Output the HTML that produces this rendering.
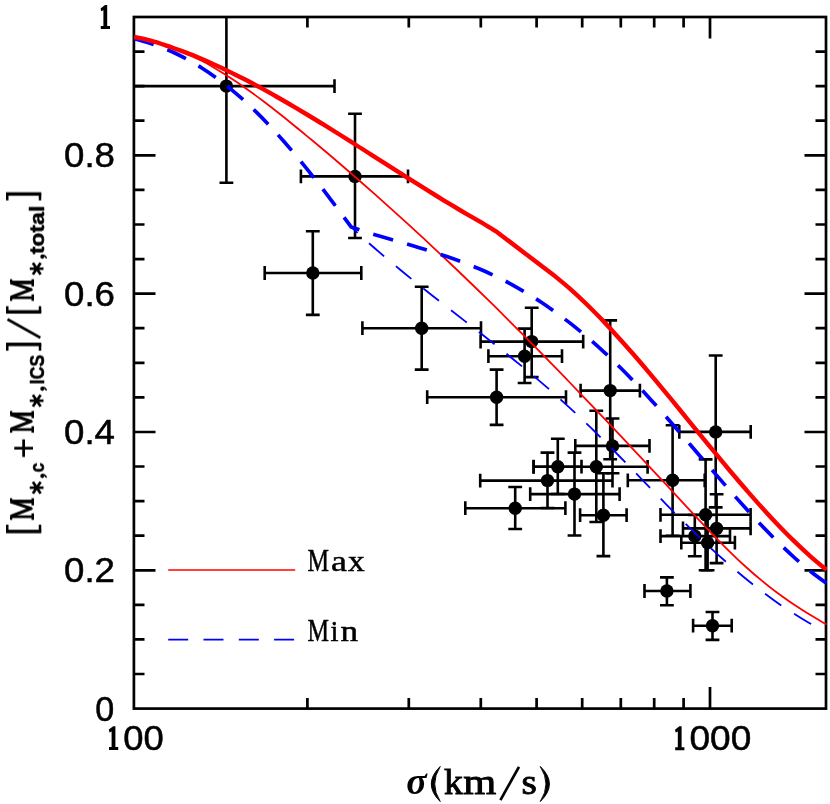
<!DOCTYPE html>
<html><head><meta charset="utf-8"><title>plot</title>
<style>html,body{margin:0;padding:0;background:#fff}svg{display:block}text{font-family:"Liberation Sans",sans-serif;fill:#000}.sf{font-family:"Liberation Serif",serif}</style>
</head><body>
<svg width="830" height="804" viewBox="0 0 830 804">
<rect width="830" height="804" fill="#fff"/>
<defs><clipPath id="cp"><rect x="134" y="17" width="692" height="691.6"/></clipPath><clipPath id="cq"><rect x="134" y="17" width="693" height="691.6"/></clipPath></defs>
<g stroke="#000" stroke-width="2.7" fill="none" stroke-linecap="butt">
<rect x="133.9" y="17" width="692.1" height="691.6"/>
<path d="M134 674.0h10.5M826 674.0h-10.5M134 639.4h10.5M826 639.4h-10.5M134 604.9h10.5M826 604.9h-10.5M134 570.3h21.5M826 570.3h-21.5M134 535.7h10.5M826 535.7h-10.5M134 501.1h10.5M826 501.1h-10.5M134 466.5h10.5M826 466.5h-10.5M134 432.0h21.5M826 432.0h-21.5M134 397.4h10.5M826 397.4h-10.5M134 362.8h10.5M826 362.8h-10.5M134 328.2h10.5M826 328.2h-10.5M134 293.6h21.5M826 293.6h-21.5M134 259.1h10.5M826 259.1h-10.5M134 224.5h10.5M826 224.5h-10.5M134 189.9h10.5M826 189.9h-10.5M134 155.3h21.5M826 155.3h-21.5M134 120.7h10.5M826 120.7h-10.5M134 86.2h10.5M826 86.2h-10.5M134 51.6h10.5M826 51.6h-10.5M307.4 17v10.5M307.4 708.6v-10.5M408.8 17v10.5M408.8 708.6v-10.5M480.8 17v10.5M480.8 708.6v-10.5M536.6 17v10.5M536.6 708.6v-10.5M582.2 17v10.5M582.2 708.6v-10.5M620.8 17v10.5M620.8 708.6v-10.5M654.2 17v10.5M654.2 708.6v-10.5M683.6 17v10.5M683.6 708.6v-10.5M710.0 17v21.5M710.0 708.6v-21.5"/>
</g>
<g clip-path="url(#cp)"><g stroke="#000" stroke-width="2.6" fill="none">
<path d="M130.0 86.1H334.5M334.5 79.2v13.8M226.4 10.0V182.8M219.5 182.8h13.8"/>
<path d="M300.9 176.4H408.0M300.9 169.5v13.8M408.0 169.5v13.8M355.0 113.7V238.0M348.1 113.7h13.8M348.1 238.0h13.8"/>
<path d="M264.7 273.0H361.3M264.7 266.1v13.8M361.3 266.1v13.8M312.8 231.3V314.9M305.9 231.3h13.8M305.9 314.9h13.8"/>
<path d="M362.4 328.2H481.0M362.4 321.3v13.8M481.0 321.3v13.8M421.7 286.7V369.6M414.8 286.7h13.8M414.8 369.6h13.8"/>
<path d="M480.6 341.6H583.2M480.6 334.7v13.8M583.2 334.7v13.8M531.7 307.7V377.1M524.8 307.7h13.8M524.8 377.1h13.8"/>
<path d="M488.4 356.2H562.0M488.4 349.3v13.8M562.0 349.3v13.8M524.6 328.6V383.0M517.7 328.6h13.8M517.7 383.0h13.8"/>
<path d="M427.2 397.2H566.0M427.2 390.3v13.8M566.0 390.3v13.8M496.6 369.6V424.9M489.7 369.6h13.8M489.7 424.9h13.8"/>
<path d="M580.6 390.6H639.9M580.6 383.7v13.8M639.9 383.7v13.8M610.2 320.4V459.3M603.3 320.4h13.8M603.3 459.3h13.8"/>
<path d="M575.3 445.9H649.5M575.3 439.0v13.8M649.5 439.0v13.8M612.5 418.5V473.3M605.6 418.5h13.8M605.6 473.3h13.8"/>
<path d="M533.6 466.7H581.5M533.6 459.8v13.8M581.5 459.8v13.8M557.8 438.7V494.0M550.9 438.7h13.8M550.9 494.0h13.8"/>
<path d="M533.6 466.8H647.6M533.6 459.9v13.8M647.6 459.9v13.8M596.3 410.7V522.0M589.4 410.7h13.8M589.4 522.0h13.8"/>
<path d="M480.2 480.6H612.5M480.2 473.7v13.8M612.5 473.7v13.8M547.5 452.6V508.0M540.6 452.6h13.8M540.6 508.0h13.8"/>
<path d="M530.2 494.1H619.6M530.2 487.2v13.8M619.6 487.2v13.8M574.5 452.6V535.5M567.6 452.6h13.8M567.6 535.5h13.8"/>
<path d="M465.3 508.2H565.4M465.3 501.3v13.8M565.4 501.3v13.8M515.2 487.0V529.0M508.3 487.0h13.8M508.3 529.0h13.8"/>
<path d="M580.1 515.2H626.6M580.1 508.3v13.8M626.6 508.3v13.8M603.4 473.3V556.1M596.5 473.3h13.8M596.5 556.1h13.8"/>
<path d="M627.8 480.3H704.7M627.8 473.4v13.8M704.7 473.4v13.8M672.6 425.3V535.7M665.7 425.3h13.8M665.7 535.7h13.8"/>
<path d="M679.3 431.9H750.7M679.3 425.0v13.8M750.7 425.0v13.8M715.7 355.5V507.4M708.8 355.5h13.8M708.8 507.4h13.8"/>
<path d="M660.5 514.8H750.6M660.5 507.9v13.8M750.6 507.9v13.8M705.6 459.4V570.2M698.7 459.4h13.8M698.7 570.2h13.8"/>
<path d="M683.0 528.4H750.6M683.0 521.5v13.8M750.6 521.5v13.8M716.6 494.3V563.1M709.7 494.3h13.8M709.7 563.1h13.8"/>
<path d="M660.5 536.1H730.0M660.5 529.2v13.8M730.0 529.2v13.8M694.8 515.0V556.3M687.9 515.0h13.8M687.9 556.3h13.8"/>
<path d="M681.3 542.7H734.9M681.3 535.8v13.8M734.9 535.8v13.8M707.6 515.0V570.2M700.7 515.0h13.8M700.7 570.2h13.8"/>
<path d="M644.5 591.0H690.4M644.5 584.1v13.8M690.4 584.1v13.8M666.9 577.4V605.3M660.0 577.4h13.8M660.0 605.3h13.8"/>
<path d="M693.1 625.7H731.7M693.1 618.8v13.8M731.7 618.8v13.8M712.5 612.0V639.9M705.6 612.0h13.8M705.6 639.9h13.8"/>
</g><g fill="#000">
<circle cx="226.4" cy="86.1" r="6.7"/>
<circle cx="355.0" cy="176.4" r="6.7"/>
<circle cx="312.8" cy="273.0" r="6.7"/>
<circle cx="421.7" cy="328.2" r="6.7"/>
<circle cx="531.7" cy="341.6" r="6.7"/>
<circle cx="524.6" cy="356.2" r="6.7"/>
<circle cx="496.6" cy="397.2" r="6.7"/>
<circle cx="610.2" cy="390.6" r="6.7"/>
<circle cx="612.5" cy="445.9" r="6.7"/>
<circle cx="557.8" cy="466.7" r="6.7"/>
<circle cx="596.3" cy="466.8" r="6.7"/>
<circle cx="547.5" cy="480.6" r="6.7"/>
<circle cx="574.5" cy="494.1" r="6.7"/>
<circle cx="515.2" cy="508.2" r="6.7"/>
<circle cx="603.4" cy="515.2" r="6.7"/>
<circle cx="672.6" cy="480.3" r="6.7"/>
<circle cx="715.7" cy="431.9" r="6.7"/>
<circle cx="705.6" cy="514.8" r="6.7"/>
<circle cx="716.6" cy="528.4" r="6.7"/>
<circle cx="694.8" cy="536.1" r="6.7"/>
<circle cx="707.6" cy="542.7" r="6.7"/>
<circle cx="666.9" cy="591.0" r="6.7"/>
<circle cx="712.5" cy="625.7" r="6.7"/>
</g></g>
<g clip-path="url(#cq)" fill="none" stroke-linejoin="round">
<path d="M134.0 37.7C136.7 38.2 144.7 39.3 150.1 40.5C155.5 41.8 160.8 43.3 166.2 45.1C171.6 46.9 176.9 49.0 182.3 51.3C187.7 53.6 193.1 56.2 198.4 59.0C203.8 61.7 209.2 64.7 214.5 67.9C219.9 71.1 225.3 74.5 230.6 78.0C236.0 81.5 241.4 85.2 246.7 89.0C252.1 92.8 257.5 96.8 262.8 100.8C268.2 104.9 273.6 109.1 278.9 113.3C284.3 117.5 289.7 121.9 295.0 126.3C300.4 130.6 305.8 135.1 311.2 139.5C316.5 144.0 321.9 148.5 327.3 153.0C332.6 157.6 338.0 162.2 343.4 166.8C348.7 171.4 354.1 176.0 359.5 180.7C364.8 185.4 370.2 190.1 375.6 194.9C380.9 199.7 386.3 204.5 391.7 209.3C397.0 214.1 402.4 219.0 407.8 223.9C413.1 228.8 418.5 233.8 423.9 238.7C429.3 243.7 434.6 248.7 440.0 253.8C445.4 258.8 450.7 263.9 456.1 269.0C461.5 274.2 466.8 279.3 472.2 284.5C477.6 289.7 482.9 294.9 488.3 300.2C493.7 305.4 499.0 310.7 504.4 316.1C509.8 321.4 515.1 326.8 520.5 332.2C525.9 337.6 531.2 343.0 536.6 348.4C542.0 353.9 547.4 359.4 552.7 364.9C558.1 370.4 563.5 375.9 568.8 381.5C574.2 387.1 579.6 392.7 584.9 398.3C590.3 403.9 595.7 409.5 601.0 415.2C606.4 420.8 611.8 426.5 617.1 432.2C622.5 437.9 627.9 443.6 633.2 449.4C638.6 455.1 644.0 460.8 649.3 466.6C654.7 472.4 660.1 478.2 665.5 483.9C670.8 489.7 676.2 495.6 681.6 501.3C686.9 507.1 692.3 512.9 697.7 518.7C703.0 524.4 708.4 530.1 713.8 535.6C719.1 541.1 724.5 546.6 729.9 551.8C735.2 557.1 740.6 562.2 746.0 567.0C751.3 571.9 756.7 576.5 762.1 580.9C767.4 585.3 772.8 589.5 778.2 593.5C783.6 597.4 788.9 601.2 794.3 604.8C799.7 608.4 805.0 611.8 810.4 615.1C815.8 618.4 823.8 623.0 826.5 624.6" stroke="#ff0000" stroke-width="1.8"/>
<path d="M134.0 38.7C136.3 39.3 143.0 41.1 147.6 42.5C152.1 43.9 156.6 45.5 161.1 47.2C165.7 49.0 170.2 50.9 174.7 53.0C179.2 55.1 183.8 57.5 188.3 60.0C192.8 62.5 197.3 65.1 201.8 68.0C206.4 70.9 210.9 74.0 215.4 77.2C219.9 80.5 224.5 84.0 229.0 87.6C233.5 91.3 238.0 95.1 242.6 99.2C247.1 103.2 251.6 107.5 256.1 111.9C260.6 116.3 265.2 121.0 269.7 125.8C274.2 130.6 278.7 135.6 283.3 140.7C287.8 145.9 292.3 151.2 296.8 156.6C301.3 162.1 305.9 167.6 310.4 173.3C314.9 179.0 319.4 184.8 324.0 190.7C328.5 196.6 333.0 202.6 337.5 208.6C342.1 214.6 348.8 223.8 351.1 226.9L351.1 226.9C353.8 229.4 361.9 236.9 367.4 241.7C372.8 246.6 378.2 251.2 383.6 255.9C389.1 260.5 394.5 265.0 399.9 269.5C405.3 274.0 410.8 278.4 416.2 282.7C421.6 287.1 427.0 291.4 432.5 295.7C437.9 300.0 443.3 304.2 448.7 308.4C454.2 312.7 459.6 316.9 465.0 321.1C470.4 325.4 475.9 329.6 481.3 333.8C486.7 338.1 492.1 342.3 497.6 346.6C503.0 351.0 508.4 355.3 513.8 359.7C519.2 364.1 524.7 368.5 530.1 373.1C535.5 377.6 540.9 382.2 546.4 386.9C551.8 391.6 557.2 396.4 562.6 401.3C568.1 406.2 573.5 411.2 578.9 416.3C584.3 421.4 589.8 426.7 595.2 432.0C600.6 437.3 606.0 442.8 611.5 448.2C616.9 453.7 622.3 459.3 627.7 464.8C633.2 470.4 638.6 476.0 644.0 481.6C649.4 487.2 654.9 492.8 660.3 498.3C665.7 503.8 671.1 509.4 676.5 514.8C682.0 520.3 687.4 525.7 692.8 530.9C698.2 536.2 703.7 541.4 709.1 546.5C714.5 551.6 719.9 556.5 725.4 561.3C730.8 566.1 736.2 570.7 741.6 575.2C747.1 579.8 752.5 584.1 757.9 588.3C763.3 592.5 768.8 596.5 774.2 600.4C779.6 604.3 785.0 608.0 790.5 611.5C795.9 615.0 801.3 618.4 806.7 621.5C812.2 624.7 820.3 629.0 823.0 630.4" stroke="#0000ff" stroke-width="1.8" stroke-dasharray="20 15.3"/>
<path d="M134.0 38.7C136.3 39.3 143.0 41.1 147.6 42.5C152.1 43.9 156.6 45.5 161.1 47.2C165.7 49.0 170.2 50.9 174.7 53.0C179.2 55.1 183.8 57.5 188.3 60.0C192.8 62.5 197.3 65.1 201.8 68.0C206.4 70.9 210.9 74.0 215.4 77.2C219.9 80.5 224.5 84.0 229.0 87.6C233.5 91.3 238.0 95.1 242.6 99.2C247.1 103.2 251.6 107.5 256.1 111.9C260.6 116.3 265.2 121.0 269.7 125.8C274.2 130.6 278.7 135.6 283.3 140.7C287.8 145.9 292.3 151.2 296.8 156.6C301.3 162.1 305.9 167.6 310.4 173.3C314.9 179.0 319.4 184.8 324.0 190.7C328.5 196.6 333.0 202.6 337.5 208.6C342.1 214.6 348.8 223.8 351.1 226.9L351.1 226.9C353.7 227.8 361.7 230.7 366.9 232.4C372.2 234.0 377.5 235.5 382.8 237.0C388.1 238.5 393.4 240.0 398.6 241.6C403.9 243.1 409.2 244.6 414.5 246.2C419.8 247.8 425.1 249.4 430.3 251.1C435.6 252.7 440.9 254.5 446.2 256.3C451.5 258.1 456.7 260.0 462.0 262.0C467.3 264.0 472.6 266.0 477.9 268.3C483.2 270.5 488.4 272.8 493.7 275.4C499.0 277.9 504.3 280.5 509.6 283.3C514.8 286.2 520.1 289.2 525.4 292.3C530.7 295.5 536.0 298.8 541.3 302.3C546.5 305.8 551.8 309.5 557.1 313.4C562.4 317.2 567.7 321.2 573.0 325.4C578.2 329.6 583.5 334.0 588.8 338.5C594.1 343.0 599.4 347.8 604.6 352.6C609.9 357.5 615.2 362.6 620.5 367.8C625.8 373.1 631.1 378.5 636.3 384.1C641.6 389.6 646.9 395.4 652.2 401.2C657.5 407.0 662.8 413.0 668.0 419.0C673.3 425.0 678.6 431.1 683.9 437.3C689.2 443.4 694.4 449.6 699.7 455.7C705.0 461.9 710.3 468.0 715.6 474.1C720.9 480.2 726.1 486.3 731.4 492.3C736.7 498.3 742.0 504.2 747.3 510.0C752.5 515.8 757.8 521.5 763.1 527.0C768.4 532.5 773.7 537.9 779.0 543.1C784.2 548.2 789.5 553.2 794.8 558.0C800.1 562.7 805.4 567.2 810.7 571.5C815.9 575.7 823.9 581.4 826.5 583.3" stroke="#0000ff" stroke-width="3.7" stroke-dasharray="20.6 14.6"/>
<path d="M134.0 36.9C136.6 37.5 144.5 39.0 149.8 40.4C155.1 41.8 160.3 43.5 165.6 45.3C170.9 47.0 176.1 48.9 181.4 50.9C186.7 52.8 191.9 54.9 197.2 57.1C202.5 59.3 207.8 61.6 213.0 64.0C218.3 66.3 223.6 68.8 228.8 71.4C234.1 73.9 239.4 76.6 244.6 79.3C249.9 82.0 255.2 84.8 260.4 87.7C265.7 90.6 271.0 93.5 276.2 96.5C281.5 99.5 286.8 102.5 292.0 105.6C297.3 108.7 302.6 111.9 307.8 115.0C313.1 118.2 318.4 121.4 323.7 124.7C328.9 127.9 334.2 131.2 339.5 134.5C344.7 137.8 350.0 141.2 355.3 144.5C360.5 147.9 365.8 151.2 371.1 154.6C376.3 157.9 381.6 161.3 386.9 164.7C392.1 168.0 397.4 171.4 402.7 174.7C407.9 178.1 413.2 181.4 418.5 184.7C423.7 188.0 429.0 191.3 434.3 194.5C439.6 197.8 444.8 201.0 450.1 204.2C455.4 207.4 460.6 210.5 465.9 213.6C471.2 216.7 476.4 219.6 481.7 222.7C487.0 225.8 494.9 230.8 497.5 232.4L497.5 232.4C506.8 239.5 544.2 267.9 553.5 275.0L553.5 275.0C556.2 277.2 564.2 283.7 569.6 288.4C574.9 293.1 580.3 298.1 585.6 303.3C591.0 308.5 596.3 313.9 601.7 319.4C607.0 325.0 612.4 330.8 617.7 336.7C623.1 342.6 628.4 348.6 633.8 354.8C639.1 360.9 644.5 367.2 649.9 373.6C655.2 379.9 660.6 386.4 665.9 392.9C671.3 399.4 676.6 405.9 682.0 412.5C687.3 419.0 692.7 425.6 698.0 432.1C703.4 438.7 708.7 445.2 714.1 451.7C719.4 458.2 724.8 464.7 730.1 471.0C735.5 477.4 740.9 483.7 746.2 489.8C751.6 496.0 756.9 502.1 762.3 508.0C767.6 513.9 773.0 519.7 778.3 525.2C783.7 530.8 789.0 536.2 794.4 541.4C799.7 546.6 805.1 551.6 810.4 556.3C815.8 561.1 823.8 567.6 826.5 569.8" stroke="#ff0000" stroke-width="4.4"/>
</g>
<path d="M168.2 570H295.2" stroke="#ff0000" stroke-width="1.7" fill="none"/>
<path d="M168.2 639.7H295.2" stroke="#0000ff" stroke-width="1.7" fill="none" stroke-dasharray="20 15.3"/>
<g opacity="0.999">
<text x="64.0" y="167.4" font-size="35" textLength="51.0" lengthAdjust="spacingAndGlyphs" stroke="#000" stroke-width="0.5">0.8</text>
<text x="64.0" y="305.7" font-size="35" textLength="51.0" lengthAdjust="spacingAndGlyphs" stroke="#000" stroke-width="0.5">0.6</text>
<text x="64.0" y="444.1" font-size="35" textLength="51.0" lengthAdjust="spacingAndGlyphs" stroke="#000" stroke-width="0.5">0.4</text>
<text x="64.0" y="582.4" font-size="35" textLength="51.0" lengthAdjust="spacingAndGlyphs" stroke="#000" stroke-width="0.5">0.2</text>
<path d="M107.2 5.0L107.2 25.9L110.0 25.9L110.0 28.9L100.8 28.9L100.8 25.9L103.4 25.9L103.4 10.3L101.3 11.2L100.6 8.4L105.0 5.0Z" fill="#000"/>
<text x="95.2" y="720.8" font-size="35" textLength="19.0" lengthAdjust="spacingAndGlyphs" stroke="#000" stroke-width="0.5">0</text>
<path d="M115.4 726.2L115.4 747.1L118.2 747.1L118.2 750.1L109.0 750.1L109.0 747.1L111.6 747.1L111.6 731.5L109.5 732.4L108.8 729.6L113.2 726.2Z" fill="#000"/>
<text x="123.3" y="750.1" font-size="35" textLength="40.5" lengthAdjust="spacingAndGlyphs" stroke="#000" stroke-width="0.5">00</text>
<path d="M681.6 726.3L681.6 747.2L684.4 747.2L684.4 750.2L675.2 750.2L675.2 747.2L677.8 747.2L677.8 731.6L675.7 732.5L675.0 729.7L679.4 726.3Z" fill="#000"/>
<text x="689.5" y="750.2" font-size="35" textLength="61.8" lengthAdjust="spacingAndGlyphs" stroke="#000" stroke-width="0.5">000</text>
<text class="sf" x="307.4" y="571.4" font-size="31.5" textLength="21.5" lengthAdjust="spacingAndGlyphs" stroke="#000" stroke-width="0.50">M</text>
<text class="sf" x="330.9" y="571.4" font-size="30.0" textLength="15.9" lengthAdjust="spacingAndGlyphs" stroke="#000" stroke-width="0.50">a</text>
<text class="sf" x="348.0" y="571.4" font-size="30.0" textLength="16.6" lengthAdjust="spacingAndGlyphs" stroke="#000" stroke-width="0.50">x</text>
<text class="sf" x="307.4" y="640.8" font-size="31.5" textLength="21.5" lengthAdjust="spacingAndGlyphs" stroke="#000" stroke-width="0.50">M</text>
<text class="sf" x="330.6" y="640.8" font-size="30.0" textLength="8.0" lengthAdjust="spacingAndGlyphs" stroke="#000" stroke-width="0.50">i</text>
<text class="sf" x="340.6" y="640.8" font-size="30.0" textLength="17.6" lengthAdjust="spacingAndGlyphs" stroke="#000" stroke-width="0.50">n</text>
<text class="sf" x="406.2" y="794.2" font-size="38" font-style="italic" font-weight="bold" textLength="20.5" lengthAdjust="spacingAndGlyphs">σ</text>
<path d="M440.2 766.5Q422.4 784 440.2 801.5Q429.2 784 440.2 766.5Z" fill="#000" stroke="#000" stroke-width="1" stroke-linejoin="round"/>
<text class="sf" x="443.9" y="794.2" font-size="36.3" textLength="18.9" lengthAdjust="spacingAndGlyphs" stroke="#000" stroke-width="0.90">k</text>
<text class="sf" x="463.2" y="794.2" font-size="36.3" textLength="33.0" lengthAdjust="spacingAndGlyphs" stroke="#000" stroke-width="0.90">m</text>
<path d="M500.4 800.2L519.0 766.8" fill="none" stroke="#000" stroke-width="2.7"/>
<text class="sf" x="521.6" y="794.2" font-size="36.3" textLength="15.4" lengthAdjust="spacingAndGlyphs" stroke="#000" stroke-width="0.90">s</text>
<path d="M540.3 766.5Q558.5 784 540.3 801.5Q551.7 784 540.3 766.5Z" fill="#000" stroke="#000" stroke-width="1" stroke-linejoin="round"/>
<g transform="translate(34 533.6) rotate(-90)">
<path d="M2.1 -28V7.3" fill="none" stroke="#000" stroke-width="3.5"/><path d="M2.1 -26.7H8.9M2.1 6H8.9" fill="none" stroke="#000" stroke-width="2.6"/>
<g transform="translate(13.7 0)" stroke="#000" fill="none">
<path d="M3.2 -1V-23.6" stroke-width="2.7"/><path d="M18.4 -1V-23.6" stroke-width="3.6"/>
<path d="M3.6 -23.2L11.4 -2.9L18.2 -23.2" stroke-width="3.1" stroke-linejoin="round"/>
<path d="M0 -1.3H6.5M14.5 -1.3H21.7" stroke-width="2.6"/><path d="M0 -22.9H3.6M18 -22.9H21.7" stroke-width="2.4"/>
</g>
<path d="M45.9 -4.2v13.8M40.1 -1.2l11.6 7.8M40.1 6.6l11.6 -7.8" stroke="#000" stroke-width="2.6" fill="none"/>
<circle cx="57.7" cy="8.3" r="2.1" fill="#000"/><path d="M58.9 8.6q0.4 2.4 -2.4 3.6" fill="none" stroke="#000" stroke-width="1.5" stroke-linecap="round"/>
<text x="61.3" y="9.8" font-size="21.0" font-weight="bold" textLength="9.6" lengthAdjust="spacingAndGlyphs" stroke="#000" stroke-width="0.5">c</text>
<path d="M76.6 -10.4H94.2M85.4 -19.8V-0.9" stroke="#000" stroke-width="2.8" fill="none"/>
<g transform="translate(100.9 0)" stroke="#000" fill="none">
<path d="M3.2 -1V-23.6" stroke-width="2.7"/><path d="M18.4 -1V-23.6" stroke-width="3.6"/>
<path d="M3.6 -23.2L11.4 -2.9L18.2 -23.2" stroke-width="3.1" stroke-linejoin="round"/>
<path d="M0 -1.3H6.5M14.5 -1.3H21.7" stroke-width="2.6"/><path d="M0 -22.9H3.6M18 -22.9H21.7" stroke-width="2.4"/>
</g>
<path d="M132.9 -4.2v13.8M127.1 -1.2l11.6 7.8M127.1 6.6l11.6 -7.8" stroke="#000" stroke-width="2.6" fill="none"/>
<circle cx="144.9" cy="8.3" r="2.1" fill="#000"/><path d="M146.1 8.6q0.4 2.4 -2.4 3.6" fill="none" stroke="#000" stroke-width="1.5" stroke-linecap="round"/>
<text x="149.3" y="9.8" font-size="21.0" font-weight="bold" textLength="29.6" lengthAdjust="spacingAndGlyphs" stroke="#000" stroke-width="0.5">ICS</text>
<path d="M189.2 -28V7.3" fill="none" stroke="#000" stroke-width="3.5"/><path d="M189.2 -26.7H182.9M189.2 6H182.9" fill="none" stroke="#000" stroke-width="2.6"/>
<path d="M195.9 6.3L214.3 -26.5" stroke="#000" stroke-width="2.7" fill="none"/>
<path d="M221.7 -28V7.3" fill="none" stroke="#000" stroke-width="3.5"/><path d="M221.7 -26.7H227.4M221.7 6H227.4" fill="none" stroke="#000" stroke-width="2.6"/>
<g transform="translate(232.7 0)" stroke="#000" fill="none">
<path d="M3.2 -1V-23.6" stroke-width="2.7"/><path d="M18.4 -1V-23.6" stroke-width="3.6"/>
<path d="M3.6 -23.2L11.4 -2.9L18.2 -23.2" stroke-width="3.1" stroke-linejoin="round"/>
<path d="M0 -1.3H6.5M14.5 -1.3H21.7" stroke-width="2.6"/><path d="M0 -22.9H3.6M18 -22.9H21.7" stroke-width="2.4"/>
</g>
<path d="M264.9 -4.2v13.8M259.1 -1.2l11.6 7.8M259.1 6.6l11.6 -7.8" stroke="#000" stroke-width="2.6" fill="none"/>
<circle cx="277.0" cy="8.3" r="2.1" fill="#000"/><path d="M278.2 8.6q0.4 2.4 -2.4 3.6" fill="none" stroke="#000" stroke-width="1.5" stroke-linecap="round"/>
<text x="279.4" y="9.8" font-size="21.0" font-weight="bold" textLength="48.5" lengthAdjust="spacingAndGlyphs" stroke="#000" stroke-width="0.5">total</text>
<path d="M339.6 -28V7.3" fill="none" stroke="#000" stroke-width="3.5"/><path d="M339.6 -26.7H333.2M339.6 6H333.2" fill="none" stroke="#000" stroke-width="2.6"/>
</g>
</g>
</svg></body></html>
